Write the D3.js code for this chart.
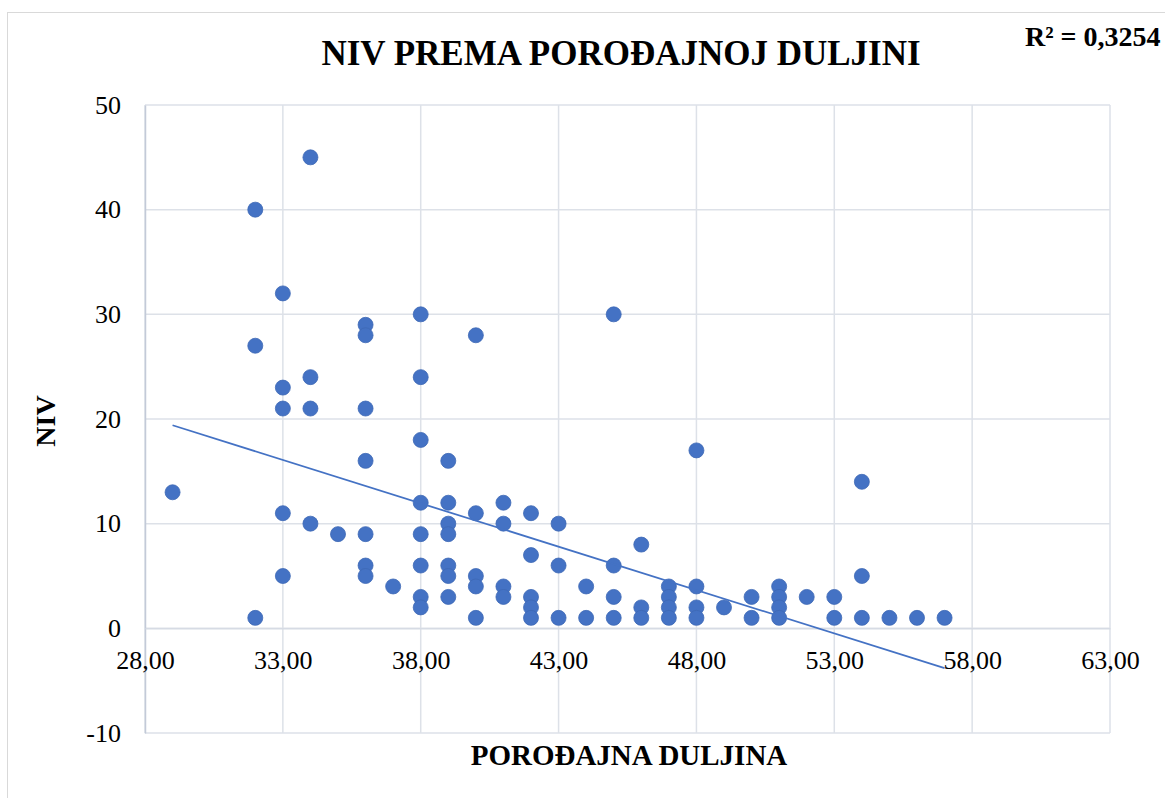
<!DOCTYPE html>
<html>
<head>
<meta charset="utf-8">
<script src="https://cdn.jsdelivr.net/npm/d3@7"></script>
<style>
  body { margin: 0; background: #fff; }
  svg { display: block; font-family: "Liberation Serif", "Times New Roman", serif; }
</style>
</head>
<body>
<div id="chart"></div>
<script>
const WIDTH = 1165;
const HEIGHT = 798;

// porođajna duljina (x) and NIV (y)
const duljina = [29, 32, 32, 32, 33, 33, 33, 33, 33, 34, 34, 34, 34, 35,
  36, 36, 36, 36, 36, 36, 36, 37,
  38, 38, 38, 38, 38, 38, 38, 38,
  39, 39, 39, 39, 39, 39, 39,
  40, 40, 40, 40, 40,
  41, 41, 41, 41,
  42, 42, 42, 42, 42,
  43, 43, 43, 44, 44,
  45, 45, 45, 45, 46, 46, 46,
  47, 47, 47, 47, 48, 48, 48, 48, 49, 50, 50,
  51, 51, 51, 51, 52, 53, 53, 54, 54, 54, 55, 56, 57];
const niv = [13, 40, 27, 1, 32, 23, 21, 11, 5, 45, 24, 21, 10, 9,
  29, 28, 21, 16, 9, 6, 5, 4,
  30, 24, 18, 12, 9, 6, 3, 2,
  16, 12, 10, 9, 6, 5, 3,
  28, 11, 5, 4, 1,
  12, 10, 4, 3,
  11, 7, 3, 2, 1,
  10, 6, 1, 4, 1,
  30, 6, 3, 1, 8, 2, 1,
  4, 3, 2, 1, 17, 4, 2, 1, 2, 3, 1,
  4, 3, 2, 1, 3, 3, 1, 14, 5, 1, 1, 1, 1];

// linear trendline end points as shown
const trendX = [29, 57];
const trendY = [19.4, -3.8];
const rSquared = 'R² = 0,3254';

const xTicks = [28, 33, 38, 43, 48, 53, 58, 63];
const yTicks = [-10, 0, 10, 20, 30, 40, 50];

const margin = {left: 145, right: 55, top: 105, bottom: 65};

let svg = d3.select('#chart').append('svg')
    .attr('width', WIDTH)
    .attr('height', HEIGHT);

// chart frame
svg.append('rect')
    .attr('x', 7.5).attr('y', 12.5)
    .attr('width', WIDTH + 20).attr('height', HEIGHT + 20)
    .attr('fill', '#fff')
    .attr('stroke', '#d9d9d9');

let xScale = d3.scaleLinear()
    .domain([28, 63])
    .range([margin.left, WIDTH - margin.right]);

let yScale = d3.scaleLinear()
    .domain([-10, 50])
    .range([HEIGHT - margin.bottom, margin.top]);

// grid
svg.append('g')
    .selectAll('line.v')
    .data(xTicks)
    .join('line')
    .attr('x1', d => xScale(d)).attr('x2', d => xScale(d))
    .attr('y1', yScale(50)).attr('y2', yScale(-10))
    .attr('stroke', '#dde1e8')
    .attr('stroke-width', 1.5);

svg.append('g')
    .selectAll('line.h')
    .data(yTicks)
    .join('line')
    .attr('x1', xScale(28)).attr('x2', xScale(63))
    .attr('y1', d => yScale(d)).attr('y2', d => yScale(d))
    .attr('stroke', '#dde1e8')
    .attr('stroke-width', 1.5);

// y axis
let yAxis = svg.append('g')
    .attr('transform', 'translate(' + xScale(28) + ',0)')
    .call(d3.axisLeft(yScale).tickValues(yTicks).tickSize(0).tickPadding(24)
      .tickFormat(d => String(d)));
yAxis.select('.domain').attr('stroke', '#c3cad8').attr('stroke-width', 1.5);
yAxis.selectAll('text')
    .attr('font-family', '"Liberation Serif", serif')
    .attr('font-size', 26)
    .attr('fill', '#000');

// x axis at y = 0
let xAxis = svg.append('g')
    .attr('transform', 'translate(0,' + yScale(0) + ')')
    .call(d3.axisBottom(xScale).tickValues(xTicks).tickSize(0).tickPadding(22)
      .tickFormat(d => d.toFixed(2).replace('.', ',')));
xAxis.select('.domain').attr('stroke', '#d6dbe4').attr('stroke-width', 1.5);
xAxis.selectAll('text')
    .attr('font-family', '"Liberation Serif", serif')
    .attr('font-size', 26)
    .attr('fill', '#000');

// points
let points = duljina.map((d, i) => ({x: d, y: niv[i]}));

svg.append('g')
    .selectAll('circle')
    .data(points)
    .join('circle')
    .attr('cx', d => xScale(d.x))
    .attr('cy', d => yScale(d.y))
    .attr('r', 7.5)
    .attr('fill', '#4472c4')
    .attr('stroke', '#3d68b5')
    .attr('stroke-width', 0.8);

// trendline
let trendLine = d3.line()
    .x(d => xScale(d[0]))
    .y(d => yScale(d[1]));

svg.append('path')
    .attr('d', trendLine(trendX.map((x, i) => [x, trendY[i]])))
    .attr('fill', 'none')
    .attr('stroke', '#4472c4')
    .attr('stroke-width', 1.75);

// titles
svg.append('text')
    .attr('x', 621).attr('y', 65)
    .attr('text-anchor', 'middle')
    .attr('font-size', 35)
    .attr('font-weight', 'bold')
    .text('NIV PREMA POROĐAJNOJ DULJINI');

svg.append('text')
    .attr('x', 1025).attr('y', 46)
    .attr('font-size', 28)
    .attr('font-weight', 'bold')
    .text(rSquared);

svg.append('text')
    .attr('x', 629).attr('y', 765)
    .attr('text-anchor', 'middle')
    .attr('font-size', 29)
    .attr('font-weight', 'bold')
    .text('POROĐAJNA DULJINA');

svg.append('text')
    .attr('transform', 'translate(55,421) rotate(-90)')
    .attr('text-anchor', 'middle')
    .attr('font-size', 28)
    .attr('font-weight', 'bold')
    .text('NIV');
</script>
</body>
</html>
